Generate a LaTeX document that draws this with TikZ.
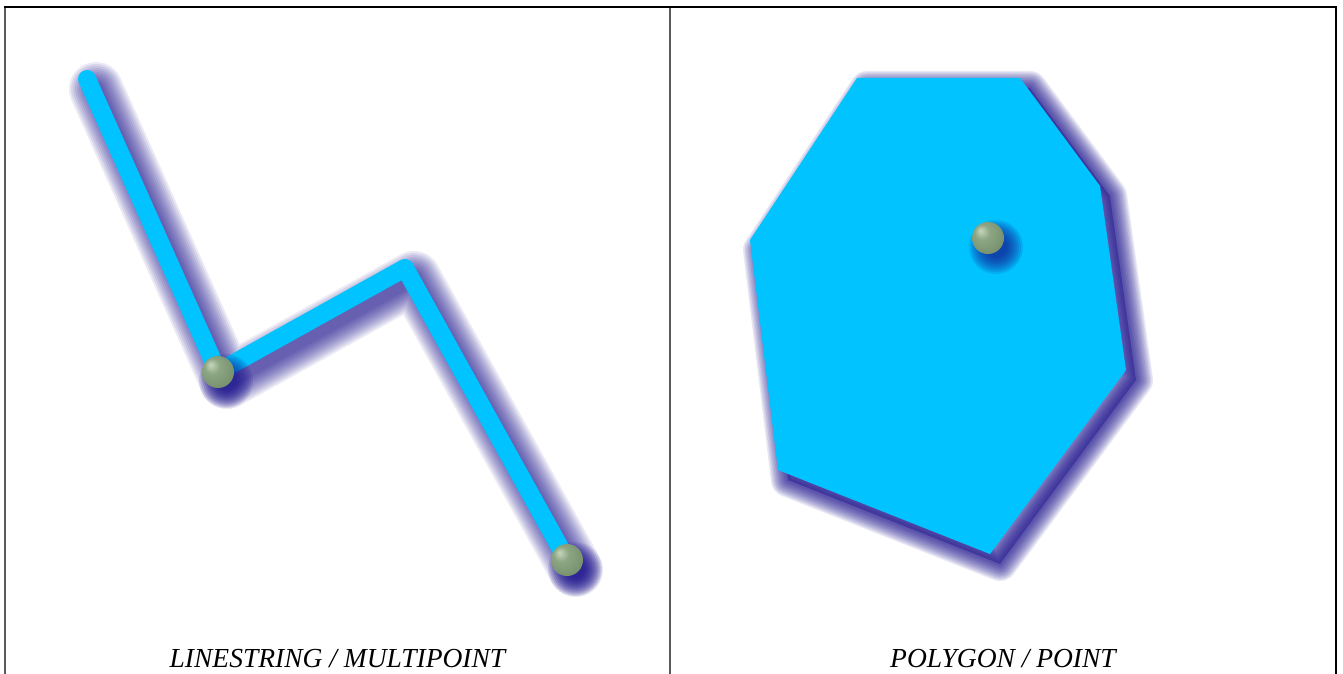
\documentclass[tikz,border=0pt]{standalone}
\usepackage{fontspec}
\setmainfont{Liberation Serif}
\usetikzlibrary{calc}
\definecolor{cyanline}{RGB}{0,195,255}
\definecolor{shadowc}{RGB}{25,15,140}
\definecolor{ballhi}{RGB}{200,215,190}
\definecolor{ballc}{RGB}{140,165,130}
\definecolor{balldark}{RGB}{60,85,55}
\definecolor{framegray}{RGB}{90,90,90}
\pgfdeclareradialshading{myballshade}{\pgfpoint{-12bp}{12bp}}{%
  color(0bp)=(ballhi); color(12bp)=(ballc); color(30bp)=(ballc!75!balldark); color(42bp)=(balldark); color(50bp)=(balldark)}
\tikzset{
  framel/.style={line width=1.6pt, draw=black},
  frameg/.style={line width=2pt, draw=framegray},
  shadowstroke/.style={draw=shadowc, opacity=0.09, line cap=round, line join=round},
  geomline/.style={draw=cyanline, line width=18pt, line cap=round, line join=round},
  geomfill/.style={fill=cyanline},
  labeltext/.style={font=\fontsize{27.5}{32}\selectfont\itshape, anchor=base, inner sep=0pt}
}
\newcommand{\myball}[1]{%
  \foreach \r in {27,25,...,11} { \fill[shadowc, opacity=0.12] ($(#1)+(8,9)$) circle (\r pt); }
  \shade[shading=myballshade] (#1) circle (16pt);
}
\begin{document}
\begin{tikzpicture}[x=1pt,y=-1pt]
\useasboundingbox (0,0) rectangle (1343,674);
\fill[white] (0,0) rectangle (1343,674);
% frame
\draw[frameg] (5,7) -- (5,674);
\draw[frameg] (670,7) -- (670,674);
\draw[framel] (4,7) -- (1337,7);
\draw[framel] (1336,7) -- (1336,674);
% ---- linestring ----
\coordinate (a) at (87,79);
\coordinate (b) at (218,372);
\coordinate (c) at (405,268);
\coordinate (d) at (567,560);
\foreach \w in {54,50,...,14} {
  \draw[shadowstroke, line width=\w pt] ($(a)+(9,10)$) -- ($(b)+(9,10)$) -- ($(c)+(9,10)$) -- ($(d)+(9,10)$);
}
\draw[geomline] (a) -- (b) -- (c) -- (d);
\myball{b}
\myball{d}
% ---- polygon ----
\coordinate (q1) at (857,78);
\coordinate (q2) at (1020,78);
\coordinate (q3) at (1100,186);
\coordinate (q4) at (1126,370);
\coordinate (q5) at (990,554);
\coordinate (q6) at (778,470);
\coordinate (q7) at (750,240);
\fill[shadowc, opacity=0.4] ($(q1)+(10,10)$) -- ($(q2)+(10,10)$) -- ($(q3)+(10,10)$) -- ($(q4)+(10,10)$) -- ($(q5)+(10,10)$) -- ($(q6)+(10,10)$) -- ($(q7)+(10,10)$) -- cycle;
\foreach \w in {34,31,...,4} {
  \draw[shadowstroke, line width=\w pt, opacity=0.1] ($(q1)+(10,10)$) -- ($(q2)+(10,10)$) -- ($(q3)+(10,10)$) -- ($(q4)+(10,10)$) -- ($(q5)+(10,10)$) -- ($(q6)+(10,10)$) -- ($(q7)+(10,10)$) -- cycle;
}
\fill[geomfill] (q1) -- (q2) -- (q3) -- (q4) -- (q5) -- (q6) -- (q7) -- cycle;
\coordinate (pt) at (988,238);
\myball{pt}
% ---- labels ----
\node[labeltext] (lab1) at (337.5,667) {LINESTRING / MULTIPOINT};
\node[labeltext] (lab2) at (1003,667) {POLYGON / POINT};
\end{tikzpicture}
\end{document}
